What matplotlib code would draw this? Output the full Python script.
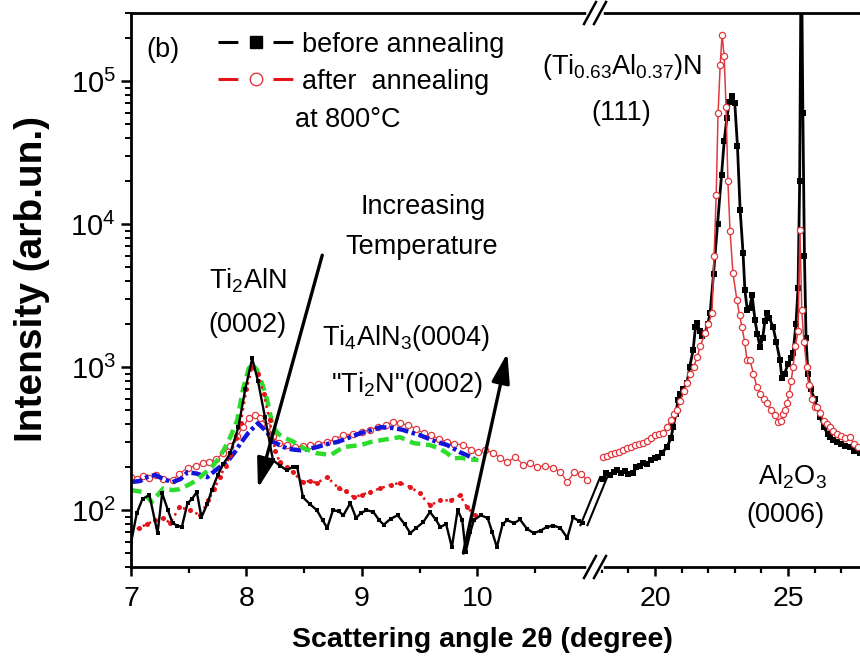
import numpy as np
import matplotlib
matplotlib.use("Agg")
import matplotlib.pyplot as plt
from matplotlib.lines import Line2D
from matplotlib.transforms import IdentityTransform

plt.rcParams['font.family'] = ['Liberation Sans', 'DejaVu Sans']
plt.rcParams['mathtext.fontset'] = 'custom'
plt.rcParams['mathtext.rm'] = 'Liberation Sans'
plt.rcParams['mathtext.it'] = 'Liberation Sans:italic'
plt.rcParams['mathtext.bf'] = 'Liberation Sans:bold'

# ---- low-angle window (7-11 deg) ----
red_open_x = [7.00, 7.05, 7.10, 7.16, 7.22, 7.28, 7.36, 7.42, 7.49, 7.56, 7.62, 7.68, 7.74, 7.80,
              7.86, 7.92, 7.97, 8.02, 8.07, 8.12, 8.18, 8.23, 8.28, 8.35, 8.42, 8.49, 8.55, 8.62,
              8.70, 8.77, 8.84, 8.92, 9.00, 9.07, 9.14, 9.21, 9.27, 9.33, 9.40, 9.47, 9.54, 9.60,
              9.67, 9.74, 9.80, 9.88, 9.95, 10.01, 10.07, 10.14, 10.20, 10.26, 10.33, 10.40, 10.46,
              10.52, 10.59, 10.66, 10.72, 10.78, 10.84, 10.90, 10.95]
red_open_y = [170, 165, 172, 168, 175, 165, 162, 180, 197, 205, 212, 218, 228, 250,
              280, 330, 380, 440, 465, 440, 390, 330, 295, 285, 276, 280, 285, 292,
              300, 315, 334, 342, 350, 365, 380, 395, 412, 405, 393, 370, 345, 334,
              315, 300, 292, 285, 265, 254, 262, 250, 232, 216, 235, 207, 212,
              200, 205, 197, 185, 157, 184, 178, 162]

blue_x = [7.00, 7.08, 7.15, 7.21, 7.28, 7.36, 7.43, 7.49, 7.57, 7.66, 7.75, 7.83, 7.90, 7.95,
          8.02, 8.10, 8.18, 8.23, 8.29, 8.35, 8.41, 8.47, 8.54, 8.61, 8.70, 8.79, 8.90, 8.99,
          9.08, 9.16, 9.27, 9.35, 9.42, 9.50, 9.57, 9.65, 9.74, 9.80, 9.85, 9.92, 9.98]
blue_y = [157, 160, 172, 176, 165, 157, 165, 184, 180, 170, 195, 216, 255, 294,
          350, 405, 350, 300, 285, 270, 265, 262, 268, 276, 290, 300, 324, 346,
          362, 380, 375, 365, 350, 335, 318, 300, 285, 268, 254, 240, 227]

green_x = [7.00, 7.10, 7.18, 7.28, 7.36, 7.42, 7.49, 7.56, 7.62, 7.70, 7.77, 7.82, 7.86, 7.92,
           7.97, 8.02, 8.05, 8.09, 8.14, 8.18, 8.23, 8.28, 8.32, 8.41, 8.50, 8.61, 8.73, 8.84,
           8.99, 9.08, 9.16, 9.25, 9.33, 9.45, 9.59, 9.67, 9.74, 9.79, 9.86, 9.93, 10.01]
green_y = [138, 134, 114, 142, 138, 140, 149, 160, 176, 200, 235, 280, 324, 425,
           700, 980, 1050, 960, 750, 588, 380, 340, 324, 300, 270, 250, 243, 276,
           285, 300, 308, 316, 324, 294, 285, 270, 250, 230, 232, 226, 224]

red_dot_x = [7.00, 7.07, 7.14, 7.21, 7.28, 7.34, 7.42, 7.51, 7.60, 7.67, 7.72, 7.77, 7.82, 7.86,
             7.91, 7.95, 8.00, 8.05, 8.10, 8.15, 8.20, 8.25, 8.29, 8.35, 8.40, 8.49, 8.55, 8.61,
             8.70, 8.80, 8.86, 8.93, 9.00, 9.07, 9.16, 9.25, 9.33, 9.42, 9.50, 9.59, 9.68, 9.77,
             9.85, 9.91, 9.98]
red_dot_y = [70, 75, 80, 85, 88, 81, 105, 100, 92, 117, 140, 170, 205, 243,
             320, 405, 700, 1000, 900, 650, 425, 260, 216, 200, 184, 157, 160, 155,
             170, 142, 135, 123, 128, 134, 142, 150, 155, 145, 131, 108, 117, 117,
             127, 105, 92]

black_lo_x = [7.00, 7.05, 7.10, 7.16, 7.23, 7.27, 7.32, 7.36, 7.40, 7.44, 7.49, 7.53, 7.57, 7.61,
              7.66, 7.70, 7.75, 7.80, 7.86, 7.93, 7.99, 8.05, 8.10, 8.16, 8.23, 8.29, 8.35, 8.40,
              8.44, 8.49, 8.55, 8.61, 8.66, 8.70, 8.75, 8.80, 8.84, 8.90, 8.95, 8.99, 9.04, 9.10,
              9.15, 9.19, 9.25, 9.31, 9.37, 9.42, 9.47, 9.53, 9.59, 9.64, 9.68, 9.73, 9.78, 9.83,
              9.87, 9.90, 9.94, 9.97, 10.03, 10.09, 10.13, 10.17, 10.22, 10.26, 10.32, 10.37,
              10.43, 10.49, 10.55, 10.60, 10.66, 10.72, 10.78, 10.83, 10.88, 10.92]
black_lo_y = [59, 95, 120, 127, 69, 131, 100, 81, 78, 76, 112, 120, 134, 89,
              110, 138, 175, 210, 250, 380, 700, 1150, 800, 450, 223, 205, 190, 200,
              200, 123, 110, 100, 85, 75, 100, 98, 92, 112, 88, 95, 100, 97,
              85, 79, 87, 92, 80, 69, 75, 82, 97, 86, 76, 80, 55, 100,
              85, 51, 70, 85, 92, 88, 70, 55, 80, 85, 81, 86,
              74, 69, 72, 76, 78, 75, 64, 89, 84, 81]

# ---- high-angle window (18-27.7 deg) ----
black_hi_x = [18.05, 18.15, 18.3, 18.45, 18.57, 18.7, 18.85, 19.0, 19.17, 19.3, 19.45, 19.55,
              19.7, 19.85, 20.0, 20.1, 20.25, 20.45, 20.6, 20.68, 20.78, 20.86, 20.95, 21.05,
              21.2, 21.3, 21.43, 21.52, 21.58, 21.68, 21.78, 21.88, 21.98, 22.07, 22.2, 22.35,
              22.5, 22.6, 22.7, 22.8, 22.9, 23.0, 23.1, 23.2, 23.31, 23.38, 23.47, 23.56,
              23.65, 23.76, 23.85, 23.95, 24.05, 24.13, 24.21, 24.3, 24.44, 24.56, 24.7, 24.77,
              24.87, 25.0, 25.1, 25.19, 25.3, 25.38, 25.44, 25.5, 25.56, 25.62, 25.68, 25.75,
              25.85, 26.0, 26.1, 26.2, 26.35, 26.5, 26.58, 26.7, 26.85, 27.0, 27.15, 27.33,
              27.5, 27.7]
black_hi_y = [165, 181, 175, 185, 190, 182, 188, 178, 181, 200, 205, 213,
              210, 225, 232, 235, 250, 276, 320, 380, 470, 588, 650, 700,
              773, 1000, 1310, 1900, 2030, 1800, 1650, 1730, 2000, 2380, 4500, 10000,
              22000, 38000, 55000, 72000, 79000, 70000, 35000, 12600, 6300, 3450, 2500, 2600,
              3180, 2130, 1700, 1380, 1600, 2100, 2380, 2200, 1910, 1500, 1120, 840,
              900, 1050, 1150, 1250, 2000, 3600, 20000, 1200000, 60000, 6000, 1600, 900,
              700, 600, 520, 450, 380, 340, 324, 310, 300, 290, 280, 276,
              260, 250]

red_hi_x = [18.05, 18.2, 18.35, 18.5, 18.65, 18.8, 18.95, 19.1, 19.25, 19.4, 19.55, 19.7,
            19.85, 20.0, 20.15, 20.3, 20.45, 20.6, 20.72, 20.83, 20.95, 21.08, 21.2, 21.32,
            21.45, 21.58, 21.7, 21.88, 22.0, 22.14, 22.22, 22.30, 22.37, 22.45, 22.52, 22.60,
            22.67, 22.74, 22.82, 22.93, 23.08, 23.18, 23.27, 23.37, 23.46, 23.57, 23.7, 23.83,
            23.95, 24.08, 24.21, 24.35, 24.5, 24.62, 24.72, 24.8, 24.88, 24.96, 25.05, 25.12,
            25.19, 25.28, 25.38, 25.45, 25.52, 25.6, 25.71, 25.8, 25.9, 26.0, 26.09, 26.2,
            26.35, 26.45, 26.58, 26.7, 26.85, 27.0, 27.15, 27.33, 27.5, 27.63]
red_hi_y = [235, 240, 245, 250, 255, 262, 270, 275, 285, 290, 294, 305,
            320, 335, 340, 346, 380, 430, 470, 500, 580, 680, 773, 900,
            1000, 1170, 1400, 1730, 2000, 2380, 6000, 16000, 60000, 130000, 210000, 150000,
            66000, 20000, 9000, 4530, 2940, 2300, 1910, 1500, 1120, 1120, 900, 725,
            650, 600, 560, 500, 460, 412, 420, 470, 500, 560, 650, 800,
            1000, 1400, 1800, 9100, 2500, 1500, 1000, 750, 600, 525, 525, 480,
            420, 400, 380, 360, 340, 330, 320, 324, 290, 276]

RED = '#e3151b'
RED_OPEN = '#e0383c'
GREEN = '#2edc2e'
BLUE = '#1414dc'

fig = plt.figure(figsize=(8.6, 6.59), dpi=100)
W, H = 860, 659
ax1 = fig.add_axes([131 / W, 92 / H, 464 / W, 554 / H])
ax2 = fig.add_axes([595 / W, 92 / H, 265 / W, 554 / H], sharey=ax1)

# low-angle curves
ax1.plot(red_open_x, red_open_y, color=RED_OPEN, lw=0.9, marker='o', ms=4.5,
         mfc='white', mec=RED_OPEN, mew=0.9)
ax1.plot(blue_x, blue_y, color=BLUE, lw=3.2, ls=(0, (2.6, 0.8, 0.8, 0.8)))
ax1.plot(green_x, green_y, color=GREEN, lw=3.2, ls=(0, (2.4, 1.3)))
ax1.plot(red_dot_x, red_dot_y, color=RED, lw=1.8, ls=':', marker='o', ms=3.6, mew=0)
ax1.plot(black_lo_x, black_lo_y, color='k', lw=1.7, marker='s', ms=3, mew=0)

# high-angle curves
ax2.plot(black_hi_x, black_hi_y, color='k', lw=2.0, marker='s', ms=4.5, mew=0)
ax2.plot(red_hi_x, red_hi_y, color=RED_OPEN, lw=1.1, marker='o', ms=4.5,
         mfc='white', mec=RED_OPEN, mew=0.9)

ax1.set_yscale('log')
ax1.set_ylim(40, 3e5)
ax1.set_xlim(7, 11.02)
ax2.set_xlim(17.74, 27.71)

ax1.set_xticks([7, 8, 9, 10])
ax1.set_xticks([7.5, 8.5, 9.5, 10.5], minor=True)
ax2.set_xticks([20, 25])
ax2.set_xticks([18, 19, 21, 22, 23, 24, 26, 27], minor=True)

for ax in (ax1, ax2):
    for s in ax.spines.values():
        s.set_linewidth(2.0)
    ax.spines['right'].set_visible(False)
    ax.tick_params(axis='x', which='major', direction='out', length=6.5, width=1.8,
                   labelsize=20.5, pad=7, top=False)
    ax.tick_params(axis='x', which='minor', direction='out', length=4, width=1.6, top=False)
ax2.spines['left'].set_visible(False)
ax1.tick_params(axis='y', which='major', direction='out', length=7.5, width=1.8,
                labelsize=21, pad=3.5, right=False)
ax1.tick_params(axis='y', which='minor', direction='out', length=4, width=1.4, right=False)
ax2.tick_params(axis='y', which='both', left=False, right=False, labelleft=False)

ax1.set_ylabel('Intensity (arb.un.)', fontsize=28, fontweight='bold')
ax1.yaxis.set_label_coords(-0.175, 0.52)
fig.text(482 / W, (H - 640) / H, 'Scattering angle 2θ (degree)', fontsize=20.5,
         fontweight='bold', ha='center', va='center')

# legend
h_before = Line2D([], [], color='k', lw=2.2, ls=(0, (6.5, 11.5)), marker='s', ms=8)
h_after = Line2D([], [], color=RED, lw=2.2, ls=(0, (6.5, 11.5)), marker='o', ms=9,
                 mfc='white', mec=RED_OPEN, mew=1.0)
ax1.legend([h_before, h_after], ['before annealing', 'after  annealing'],
           loc='upper left', bbox_to_anchor=(0.1875, 0.966), frameon=False,
           fontsize=19.5, handlelength=2.84, handletextpad=0.26, borderpad=0,
           borderaxespad=0, labelspacing=0.4, numpoints=1)
ax1.text(0.353, 0.807, 'at 800°C', transform=ax1.transAxes, fontsize=19.5,
         ha='left', va='center')
ax1.text(0.069, 0.933, '(b)', transform=ax1.transAxes, fontsize=19.5,
         ha='center', va='center')

# peak labels
lab = dict(fontsize=19.5, ha='center', va='center')
ax1.text(9.53, 13150, 'Increasing', **lab)
ax1.text(9.52, 6900, 'Temperature', **lab)
ax1.text(8.01, 4050, r'Ti$_2$AlN', **lab)
ax1.text(8.01, 1970, '(0002)', **lab)
ax1.text(9.385, 1600, r'Ti$_4$AlN$_3$(0004)', **lab)
ax1.text(9.39, 748, r'"Ti$_2$N"(0002)', **lab)
ax2.text(18.76, 1.25e5, r'(Ti$_{0.63}$Al$_{0.37}$)N', **lab)
ax2.text(18.72, 5.97e4, '(111)', **lab)
ax2.text(25.15, 170, r'Al$_2$O$_3$', **lab)
ax2.text(24.92, 92, '(0006)', **lab)

# temperature arrows
arrow = dict(arrowstyle='-|>,head_length=1.8,head_width=0.55', mutation_scale=10,
             lw=2.4, color='k', shrinkA=0, shrinkB=0)
ax1.annotate('', xy=(8.10, 142.6), xytext=(8.657, 6070), arrowprops=arrow)
ax1.annotate('', xy=(10.26, 1253), xytext=(9.88, 50), arrowprops=arrow)

# axis break marks
fig.canvas.draw()
xb = 595
for yb in (H - 567, H - 13):
    fig.add_artist(Line2D([xb - 6, xb + 6], [yb, yb], color='white', lw=4,
                          transform=IdentityTransform()))
    for dx in (-5, 5):
        fig.add_artist(Line2D([xb + dx - 6, xb + dx + 6], [yb - 11, yb + 11], color='k',
                              lw=1.8, transform=IdentityTransform()))

# break marks joining the two black traces
p0 = ax1.transData.transform((black_lo_x[-1], black_lo_y[-1]))
p1 = ax2.transData.transform((black_hi_x[0], black_hi_y[0]))
for dx in (-3, 4):
    fig.add_artist(Line2D([p0[0] + dx, p1[0] + dx], [p0[1] - 2, p1[1] + 2], color='k',
                          lw=1.5, transform=IdentityTransform()))

fig.savefig('out.png', dpi=100)
